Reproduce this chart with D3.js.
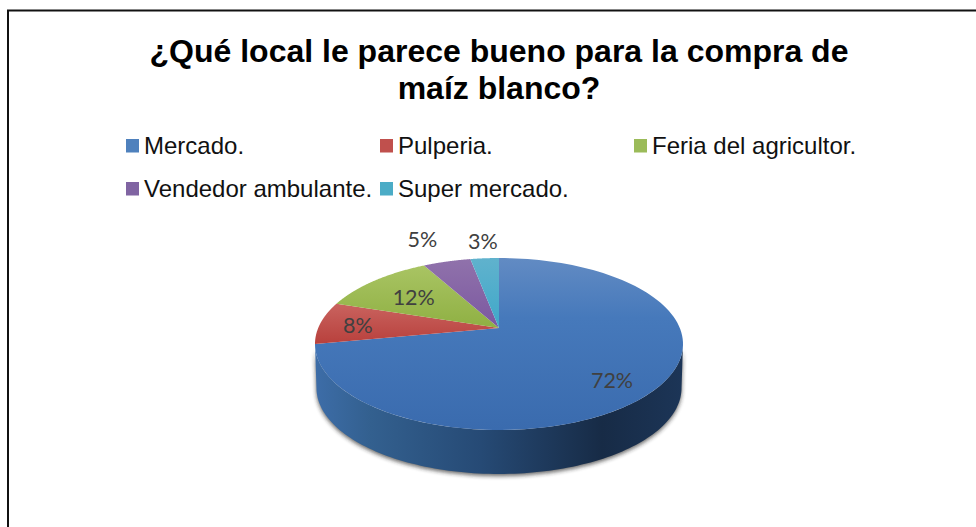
<!DOCTYPE html>
<html><head><meta charset="utf-8">
<script src="https://cdn.jsdelivr.net/npm/d3@7/dist/d3.min.js"></script>
<style>html,body{margin:0;padding:0;background:#fff;overflow:hidden}svg{display:block}</style>
</head><body><svg id="c" width="976" height="527"></svg>
<script>
const titleLines = ["¿Qué local le parece bueno para la compra de", "maíz blanco?"];
const categories = ["Mercado.", "Pulperia.", "Feria del agricultor.", "Vendedor ambulante.", "Super mercado."];
const values = [72, 8, 12, 5, 3];
const labels = ["72%", "8%", "12%", "5%", "3%"];
const topColors = ["#628bc3", "#c9635f", "#a9c463", "#9072ab", "#60b2cd"];
const bottomColors = ["#3a6bae", "#b8403c", "#8fb043", "#7b58a0", "#3fa8c9"];
const legendColors = ["#4f81bd", "#c0504d", "#9bbb59", "#8064a2", "#4bacc6"];

const svg = d3.select("#c");
const defs = svg.append("defs");
const apex = {x: 499, y: 328}, persp = 0.186, sx = 180.8, sy = 83, depth = 44;

// perspective projection of the unit pie onto the tilted disc
const project = (a, r = 1) => {
  const X = r * Math.sin(a), Y = r * Math.cos(a), d = 1 + persp * Y;
  return [apex.x + sx * X / d, apex.y - sy * Y / d];
};
const line = d3.line();
const arcs = d3.pie().sort(null).value(d => d)(values);
const arcPoints = (a0, a1) => d3.range(0, 1.0001, 1 / 120).map(t => project(a0 + (a1 - a0) * t));

// frame
svg.append("path").attr("d", "M8,527V10.5H976").attr("fill", "none").attr("stroke", "#111").attr("stroke-width", 2);

// title
svg.append("g").selectAll("text").data(titleLines).join("text")
  .attr("x", 499).attr("y", (d, i) => 62 + i * 37)
  .attr("text-anchor", "middle")
  .attr("font-family", "Liberation Sans").attr("font-weight", 700).attr("font-size", 32)
  .attr("fill", "#000").text(d => d);

// legend
const col = d3.scalePoint().domain([0, 1, 2]).range([126, 634]);
const row = d3.scalePoint().domain([0, 1]).range([145.5, 188.5]);
const legend = svg.append("g").selectAll("g").data(categories).join("g")
  .attr("transform", (d, i) => `translate(${col(i % 3)},${row(Math.floor(i / 3))})`);
legend.append("rect").attr("y", -6.5).attr("width", 13).attr("height", 13.5).attr("fill", (d, i) => legendColors[i]);
legend.append("text").attr("x", 18).attr("y", 8)
  .attr("font-family", "Liberation Sans").attr("font-size", 24).attr("fill", "#111").text(d => d);

// gradients
const side = defs.append("linearGradient").attr("id", "side");
[[0, "#3d6da8"], [0.15, "#33608f"], [0.45, "#264a75"], [0.78, "#172b46"], [1, "#1c3557"]]
  .forEach(s => side.append("stop").attr("offset", s[0]).attr("stop-color", s[1]));
topColors.forEach((c, i) => {
  const g = defs.append("linearGradient").attr("id", "s" + i).attr("x1", 0).attr("x2", 0).attr("y1", 0).attr("y2", 1);
  g.append("stop").attr("offset", 0).attr("stop-color", c);
  if (i === 0) g.append("stop").attr("offset", 0.35).attr("stop-color", "#4679bb");
  g.append("stop").attr("offset", 1).attr("stop-color", bottomColors[i]);
});
defs.append("filter").attr("id", "blur").attr("x", "-10%").attr("y", "-20%").attr("width", "120%").attr("height", "140%")
  .append("feGaussianBlur").attr("stdDeviation", 2.2);

// side wall, from the near half of the rim
const rimStart = Math.PI / 2 + 0.187, rimEnd = Math.PI * 3 / 2 - 0.187;
const rim = arcPoints(rimStart, rimEnd);
const cx = apex.x, shrink = 0.992;
const lower = rim.map(p => [cx + (p[0] - cx) * shrink, p[1] + depth]);
const wall = line(rim) + "L" + lower.slice().reverse().map(p => p.join(",")).join("L") + "Z";
svg.append("path").attr("d", wall).attr("fill", "#222").attr("opacity", 0.7)
  .attr("filter", "url(#blur)").attr("transform", "translate(0,2)");
svg.append("path").attr("d", wall).attr("fill", "url(#side)");

// top face slices
svg.append("g").selectAll("path").data(arcs).join("path")
  .attr("d", d => line([[apex.x, apex.y], ...arcPoints(d.startAngle, d.endAngle)]) + "Z")
  .attr("fill", (d, i) => `url(#s${i})`);

// data labels: placed along each slice's mid-angle, at a radial factor, then nudged
const labelRadius = [0.74, 0.79, 0.66, 1.2, 1.16];
const labelNudge = [[0, 10], [0, 2], [0, 2], [-16, -11.5], [0, -8]];
svg.append("g").selectAll("text").data(arcs).join("text")
  .attr("transform", (d, i) => {
    const p = project((d.startAngle + d.endAngle) / 2, labelRadius[i]);
    return `translate(${p[0] + labelNudge[i][0]},${p[1] + labelNudge[i][1]})`;
  })
  .attr("text-anchor", "middle").attr("dy", "0.35em")
  .attr("font-family", "Lato").attr("font-size", 21.5).attr("fill", "#404040")
  .text((d, i) => labels[i]);
</script></body></html>
